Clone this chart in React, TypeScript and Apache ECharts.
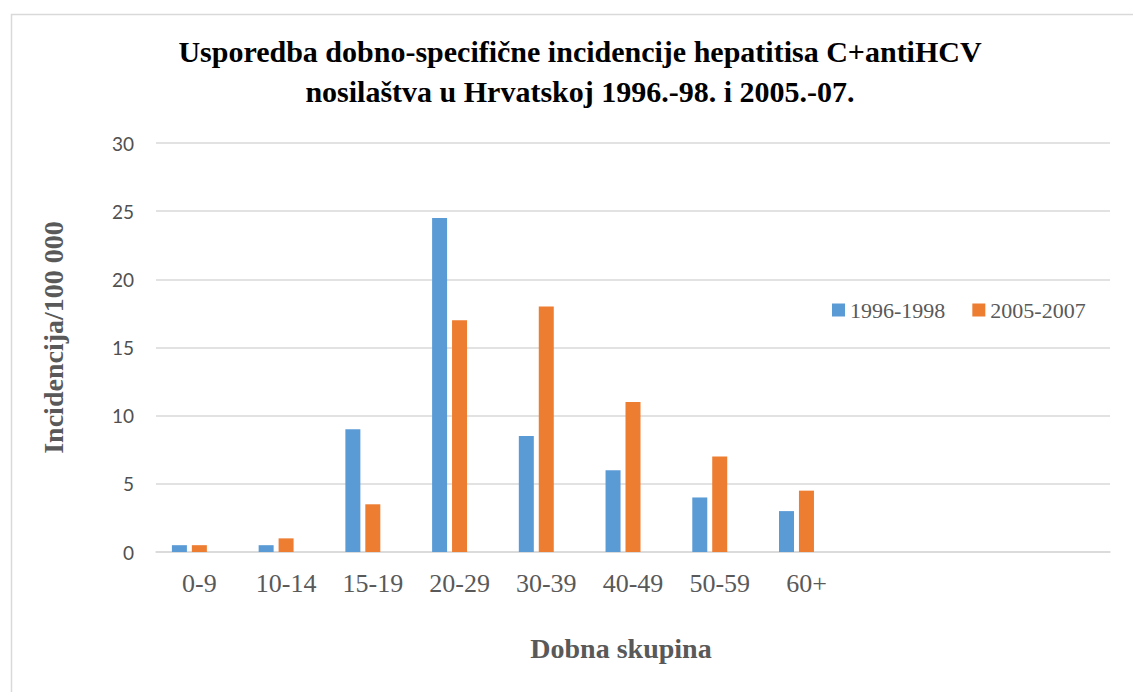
import React, { useEffect, useRef } from "react";
import * as echarts from "echarts";

const categories = ["0-9", "10-14", "15-19", "20-29", "30-39", "40-49", "50-59", "60+", "", "", ""];
const series1996 = [0.5, 0.5, 9, 24.5, 8.5, 6, 4, 3, null, null, null];
const series2005 = [0.5, 1, 3.5, 17, 18, 11, 7, 4.5, null, null, null];
const emptySeries = [null, null, null, null, null, null, null, null, null, null, null];
const seriesNames = ["1996-1998", "2005-2007"];
const yTicks = { min: 0, max: 30, interval: 5 };

export default function App() {
  const ref = useRef<HTMLDivElement>(null);
  useEffect(() => {
    if (!ref.current) return;
    const chart = echarts.init(ref.current, undefined, { renderer: "svg" });
    const serif = "'Liberation Serif', 'Times New Roman', serif";
    chart.setOption({
      animation: false,
      backgroundColor: "#ffffff",
      title: {
        text: "Usporedba dobno-specifične incidencije hepatitisa C+antiHCV\nnosilaštva u Hrvatskoj 1996.-98. i 2005.-07.",
        left: 575,
        top: 26,
        textAlign: "center",
        textStyle: {
          fontFamily: serif,
          fontWeight: "bold",
          fontSize: 30,
          lineHeight: 40,
          color: "#000000",
        },
      },
      graphic: [
        {
          type: "rect",
          left: 9,
          top: 12,
          shape: { x: 0, y: 0, width: 1200, height: 1000 },
          style: { fill: "none", stroke: "#d9d9d9", lineWidth: 1.5 },
          silent: true,
        },
      ],
      legend: {
        data: seriesNames,
        left: 827,
        top: 294,
        itemWidth: 13,
        itemHeight: 13,
        itemGap: 27,
        icon: "rect",
        textStyle: { fontFamily: serif, fontSize: 22, color: "#595959" },
      },
      grid: { left: 156, right: 23, top: 143, bottom: 140 },
      xAxis: {
        type: "category",
        data: categories,
        name: "Dobna skupina",
        nameLocation: "middle",
        nameGap: 82,
        nameTextStyle: {
          fontFamily: serif,
          fontWeight: "bold",
          fontSize: 28,
          color: "#595959",
          padding: [0, 24, 0, 0],
        },
        axisLine: { lineStyle: { color: "#d9d9d9", width: 1.5 } },
        axisTick: { show: false },
        axisLabel: {
          fontFamily: serif,
          fontSize: 26,
          color: "#595959",
          margin: 18,
          interval: 0,
        },
      },
      yAxis: {
        type: "value",
        min: yTicks.min,
        max: yTicks.max,
        interval: yTicks.interval,
        name: "Incidencija/100 000",
        nameLocation: "middle",
        nameGap: 89,
        nameTextStyle: {
          fontFamily: serif,
          fontWeight: "bold",
          fontSize: 28,
          color: "#595959",
          padding: [0, 0, 0, 20],
        },
        axisLine: { show: false },
        axisTick: { show: false },
        axisLabel: { fontFamily: "Lato, 'Open Sans', sans-serif", fontSize: 19, color: "#505050", margin: 22 },
        splitLine: { lineStyle: { color: "#d9d9d9", width: 1.5 } },
      },
      series: [
        {
          name: seriesNames[0],
          type: "bar",
          data: series1996,
          barWidth: 15,
          barGap: "33%",
          itemStyle: { color: "#5B9BD5" },
        },
        {
          name: seriesNames[1],
          type: "bar",
          data: series2005,
          barWidth: 15,
          barGap: "33%",
          itemStyle: { color: "#ED7D31" },
        },
        {
          name: "",
          type: "bar",
          data: emptySeries,
          barWidth: 15,
          barGap: "33%",
          itemStyle: { color: "#A5A5A5" },
        },
      ],
    });
    return () => chart.dispose();
  }, []);
  return (
    <div
      ref={ref}
      style={{ position: "absolute", left: 0, top: 0, width: 1133, height: 692 }}
    />
  );
}
